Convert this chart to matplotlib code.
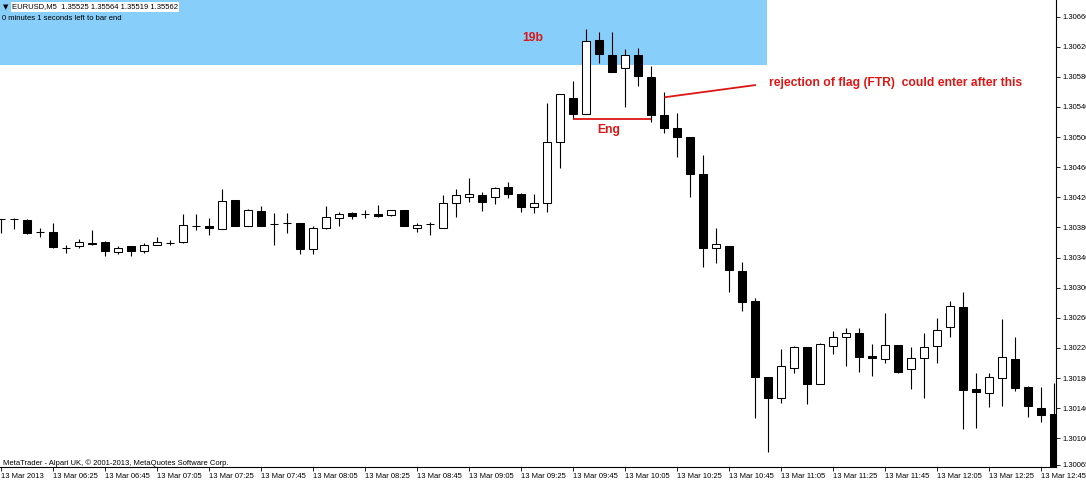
import matplotlib
matplotlib.use("Agg")
import matplotlib.pyplot as plt
import numpy as np

# EURUSD M5, 13 Mar 2013, bars 06:05 -> 12:50
opens = [1.30391, 1.30391, 1.30390, 1.30374, 1.30374, 1.30353, 1.30355, 1.30359, 1.30361, 1.30347,
         1.30355, 1.30349, 1.30357, 1.30359, 1.30361, 1.30382, 1.30382, 1.30378, 1.30417, 1.30382,
         1.30402, 1.30385, 1.30386, 1.30386, 1.30351, 1.30379, 1.30393, 1.30399, 1.30398, 1.30398,
         1.30397, 1.30403, 1.30379, 1.30385, 1.30379, 1.30412, 1.30421, 1.30423, 1.30421, 1.30434,
         1.30425, 1.30407, 1.30412, 1.30493, 1.30552, 1.30531, 1.30629, 1.30609, 1.30592, 1.30609,
         1.30580, 1.30529, 1.30512, 1.30500, 1.30451, 1.30353, 1.30355, 1.30322, 1.30283, 1.30182,
         1.30154, 1.30194, 1.30221, 1.30172, 1.30223, 1.30235, 1.30240, 1.30209, 1.30206, 1.30224,
         1.30192, 1.30207, 1.30223, 1.30248, 1.30275, 1.30166, 1.30160, 1.30180, 1.30206, 1.30168,
         1.30140, 1.30133]
highs = [1.30391, 1.30392, 1.30391, 1.30379, 1.30386, 1.30357, 1.30365, 1.30377, 1.30362, 1.30355,
         1.30355, 1.30359, 1.30367, 1.30363, 1.30398, 1.30398, 1.30393, 1.30431, 1.30417, 1.30405,
         1.30409, 1.30399, 1.30399, 1.30386, 1.30382, 1.30409, 1.30401, 1.30401, 1.30403, 1.30410,
         1.30403, 1.30403, 1.30386, 1.30387, 1.30423, 1.30431, 1.30446, 1.30427, 1.30434, 1.30440,
         1.30426, 1.30425, 1.30545, 1.30557, 1.30574, 1.30643, 1.30639, 1.30639, 1.30617, 1.30618,
         1.30594, 1.30560, 1.30532, 1.30500, 1.30476, 1.30379, 1.30355, 1.30334, 1.30286, 1.30182,
         1.30219, 1.30223, 1.30221, 1.30227, 1.30243, 1.30247, 1.30247, 1.30225, 1.30267, 1.30224,
         1.30221, 1.30240, 1.30260, 1.30283, 1.30294, 1.30187, 1.30187, 1.30259, 1.30235, 1.30170,
         1.30168, 1.30174]
lows = [1.30373, 1.30378, 1.30371, 1.30367, 1.30353, 1.30346, 1.30353, 1.30357, 1.30342, 1.30345,
        1.30342, 1.30346, 1.30357, 1.30357, 1.30359, 1.30377, 1.30370, 1.30378, 1.30382, 1.30382,
        1.30382, 1.30357, 1.30373, 1.30345, 1.30345, 1.30378, 1.30382, 1.30391, 1.30393, 1.30394,
        1.30395, 1.30382, 1.30374, 1.30370, 1.30379, 1.30394, 1.30414, 1.30402, 1.30411, 1.30419,
        1.30401, 1.30399, 1.30401, 1.30459, 1.30524, 1.30531, 1.30598, 1.30586, 1.30540, 1.30568,
        1.30520, 1.30505, 1.30474, 1.30421, 1.30328, 1.30333, 1.30294, 1.30269, 1.30127, 1.30082,
        1.30147, 1.30187, 1.30145, 1.30172, 1.30212, 1.30196, 1.30188, 1.30183, 1.30200, 1.30187,
        1.30166, 1.30154, 1.30200, 1.30235, 1.30113, 1.30114, 1.30142, 1.30143, 1.30163, 1.30129,
        1.30122, 1.30058]
closes = [1.30391, 1.30391, 1.30373, 1.30374, 1.30354, 1.30353, 1.30361, 1.30358, 1.30349, 1.30353,
          1.30349, 1.30357, 1.30361, 1.30359, 1.30383, 1.30382, 1.30379, 1.30415, 1.30382, 1.30403,
          1.30382, 1.30385, 1.30386, 1.30351, 1.30379, 1.30394, 1.30398, 1.30395, 1.30398, 1.30395,
          1.30403, 1.30382, 1.30383, 1.30385, 1.30412, 1.30423, 1.30425, 1.30414, 1.30432, 1.30425,
          1.30407, 1.30412, 1.30493, 1.30557, 1.30531, 1.30628, 1.30610, 1.30586, 1.30609, 1.30581,
          1.30529, 1.30512, 1.30500, 1.30451, 1.30353, 1.30358, 1.30324, 1.30281, 1.30182, 1.30154,
          1.30196, 1.30221, 1.30172, 1.30225, 1.30235, 1.30240, 1.30208, 1.30207, 1.30224, 1.30188,
          1.30207, 1.30221, 1.30244, 1.30276, 1.30164, 1.30162, 1.30182, 1.30208, 1.30167, 1.30143,
          1.30131, 1.30058]

time_labels = ["13 Mar 2013", "13 Mar 06:25", "13 Mar 06:45", "13 Mar 07:05", "13 Mar 07:25",
               "13 Mar 07:45", "13 Mar 08:05", "13 Mar 08:25", "13 Mar 08:45", "13 Mar 09:05",
               "13 Mar 09:25", "13 Mar 09:45", "13 Mar 10:05", "13 Mar 10:25", "13 Mar 10:45",
               "13 Mar 11:05", "13 Mar 11:25", "13 Mar 11:45", "13 Mar 12:05", "13 Mar 12:25",
               "13 Mar 12:45"]
price_ticks = [1.30660, 1.30620, 1.30580, 1.30540, 1.30500, 1.30460, 1.30420, 1.30380,
               1.30340, 1.30300, 1.30260, 1.30220, 1.30180, 1.30140, 1.30100, 1.30065]

plt.rcParams['font.family'] = ['Liberation Sans', 'DejaVu Sans']
RED = '#dd1515'

o = np.array(opens)
c = np.array(closes)
x = np.arange(len(opens))
bull = c > o

fig = plt.figure(figsize=(10.86, 4.80), dpi=100)
ax = fig.add_axes([0, 13 / 480, 1056 / 1086, 467 / 480])

# blue zone at the top
ax.axhspan(1.30596, 1.30690, xmin=0, xmax=767 / 1056, color='#87cefa', lw=0, zorder=0)

# candles
ax.vlines(x, lows, highs, color='black', lw=0.8, zorder=2)
ax.bar(x, np.abs(c - o), bottom=np.minimum(o, c), width=0.64,
       color=np.where(bull, 'white', 'black'), edgecolor='black', lw=0.75, zorder=3)

# annotations
ax.hlines(1.30524, 44, 50, color=RED, lw=1.3, zorder=4)
ax.plot([51.1, 58.0], [1.30553, 1.30569], color=RED, lw=1.3, zorder=4)
ax.text(40.1, 1.30632, "19b", color=RED, fontsize=8.7, fontweight='bold', va='center', ha='left')
ax.text(45.9, 1.30509, "Eng", color=RED, fontsize=8.7, fontweight='bold', va='center', ha='left')
ax.text(59.1, 1.30572, "rejection of flag (FTR)  could enter after this", color=RED,
        fontsize=8.7, fontweight='bold', va='center', ha='left')

ax.set_xlim(-1 / 13, 1055 / 13)
ax.set_ylim(1.30062, 1.30682)

ax.yaxis.tick_right()
ax.set_yticks(price_ticks)
ax.set_yticklabels([f"{p:.5f}" for p in price_ticks])
ax.set_xticks(x[::4])
ax.set_xticklabels(time_labels)
plt.setp(ax.get_xticklabels(), ha='left')
ax.tick_params(axis='both', labelsize=5.5, length=3, width=0.6, pad=1.5, colors='black')

for side in ['top', 'left']:
    ax.spines[side].set_visible(False)
for side in ['right', 'bottom']:
    ax.spines[side].set_linewidth(0.8)

# terminal texts
fig.text(3 / 1086, 1 - 7 / 480, "\u25bc", fontsize=5, va='center', ha='left', family='DejaVu Sans')
fig.text(12 / 1086, 1 - 7 / 480, "EURUSD,M5  1.35525 1.35564 1.35519 1.35562", fontsize=5.5,
         va='center', ha='left', bbox=dict(facecolor='white', edgecolor='none', pad=0.8))
fig.text(2 / 1086, 1 - 18 / 480, "0 minutes 1 seconds left to bar end", fontsize=5.5,
         va='center', ha='left')
fig.text(3 / 1086, 1 - 463 / 480, "MetaTrader - Alpari UK, \u00a9 2001-2013, MetaQuotes Software Corp.",
         fontsize=5.5, va='center', ha='left')

fig.savefig("out.png", dpi=100)
